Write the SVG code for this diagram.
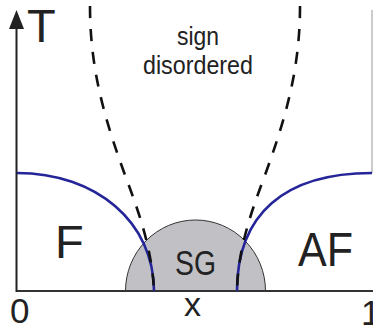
<svg xmlns="http://www.w3.org/2000/svg" width="373" height="326" viewBox="0 0 373 326">
<style>
text{font-family:"Liberation Sans",Arial,sans-serif;fill:#222}
.dash{fill:none;stroke:#111;stroke-width:2.6;stroke-dasharray:12 11}
.blue{fill:none;stroke:#25259a;stroke-width:2.6}
.axis{fill:none;stroke:#222;stroke-width:2}
</style>
<rect width="373" height="326" fill="#fff"/>
<g id="sg-region">
<path d="M125.5,291 A70,71 0 0 1 265.5,291 Z" fill="#c1c1c5" stroke="#333" stroke-width="1"/>
</g>
<g id="axes">
<line x1="17" y1="291" x2="373" y2="291" stroke="#333" stroke-width="2"/>
<line class="axis" x1="16.5" y1="292" x2="16.5" y2="24"/>
<path d="M16.5,10 L24,29 L9,29 Z" fill="#222"/>
<line x1="372" y1="10" x2="372" y2="173" stroke="#999" stroke-width="1"/>
</g>
<g id="connectors">
<path class="blue" d="M17,173 C96.5,173 154,222.6 154,291"/>
<path class="blue" d="M237,291 C237,214.3 284.3,173 372,173"/>
<path class="dash" d="M90,6 C90,70 105,120 125,175 C140,215 152,250 154,291"/>
<path class="dash" d="M300,6 C300,70 285,120 265,175 C250,215 238,250 237,291"/>
</g>
<g id="labels">
<text x="27" y="42" font-size="47">T</text>
<text x="198" y="45" font-size="25" text-anchor="middle" textLength="42" lengthAdjust="spacingAndGlyphs">sign</text>
<text x="198" y="74" font-size="25" text-anchor="middle" textLength="110" lengthAdjust="spacingAndGlyphs">disordered</text>
<text x="55" y="258" font-size="47">F</text>
<text x="298" y="266" font-size="48" textLength="55" lengthAdjust="spacingAndGlyphs">AF</text>
<text x="175" y="275" font-size="35" textLength="41" lengthAdjust="spacingAndGlyphs">SG</text>
<text x="10" y="323" font-size="35">0</text>
<text x="184" y="316" font-size="34">x</text>
<text x="361" y="325" font-size="35">1</text>
</g>
</svg>
